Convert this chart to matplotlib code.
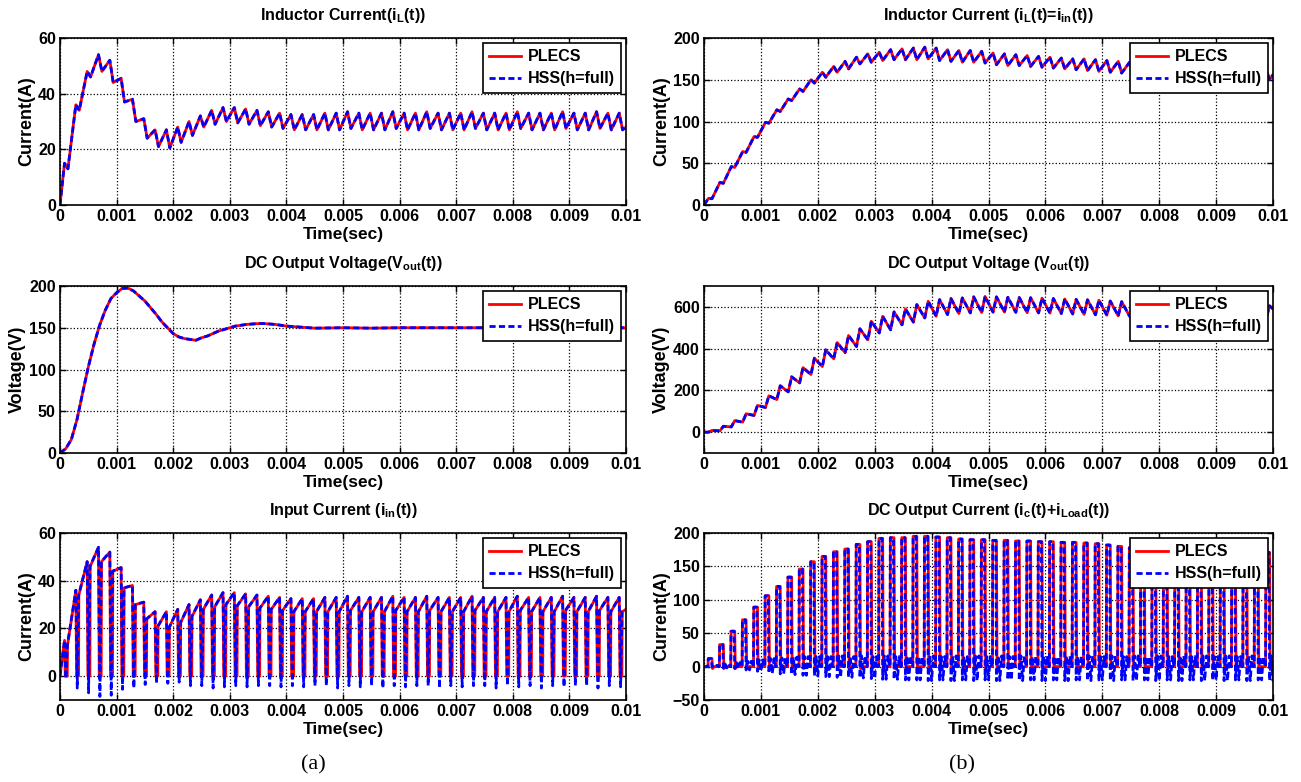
import numpy as np
import matplotlib
matplotlib.use('Agg')
from matplotlib import pyplot as plt

plt.rcParams['font.family'] = ['Liberation Sans', 'DejaVu Sans']
plt.rcParams['font.weight'] = 'bold'
plt.rcParams['axes.labelweight'] = 'bold'
plt.rcParams['axes.titleweight'] = 'bold'
plt.rcParams['mathtext.fontset'] = 'custom'
plt.rcParams['mathtext.rm'] = 'Liberation Sans:bold'
plt.rcParams['mathtext.it'] = 'Liberation Sans:bold'
plt.rcParams['mathtext.bf'] = 'Liberation Sans:bold'

# one switching instant per 0.2 ms period
t_sw = np.arange(0.0001, 0.01, 0.0002)

# (a) inductor current: peak before each switching instant, trough after it
il_a_peak = [15, 36, 48, 54, 52, 45.5, 38, 31, 27, 27, 28, 30, 32, 34, 35, 35, 34.5, 34, 33.5, 33,
             32.5, 32.5, 32.5, 33, 33, 33.5, 33, 33, 33, 33.5, 33, 33, 33.5, 33, 33, 33, 33.5, 33, 33, 33,
             33.5, 33, 33, 33, 33.5, 33, 33, 33.5, 33, 33]
il_a_low = [13, 34, 46, 48, 44, 37, 30, 24, 21, 20.5, 22.5, 25, 28, 29, 30, 29.5, 29, 28.5, 28, 27.5,
            27, 27, 27, 27, 27, 27.5, 27, 27, 27, 27.5, 27, 27, 27.5, 27, 27, 27, 27.5, 27, 27, 27,
            27.5, 27, 27, 27, 27.5, 27, 27, 27.5, 27, 27]
il_a_end = 28

# (a) output voltage
vout_a_t = [round(0.0001 * i, 4) for i in range(46)] + [0.005, 0.0055, 0.006, 0.0065, 0.007, 0.0075,
                                                        0.008, 0.0085, 0.009, 0.0095, 0.01]
vout_a = [0, 5, 16, 40, 72, 103, 130, 153, 171, 185, 192, 197, 197.5, 194, 188, 182, 174, 166, 157, 150,
          143, 139, 137, 136, 135, 138, 140, 143, 146, 148, 150, 152, 153, 154, 154.5, 155, 155, 154.5,
          154, 153, 152, 151.5, 151, 150.5, 150, 149.5,
          150, 149.5, 150, 150, 150, 150, 150, 150, 150, 150, 150]

# (a) input current: dips while the switch is off
iin_dip_plecs = 0
iin_dip_hss = [-1, -5, -7, -8.5, -8, -5.5, -5, -3.5, -3, -3, -2.5, -4, -4, -5, -4.5, -4, -4.5, -4, -4, -4.5,
               -4, -4.5, -4, -4, -5, -4, -4.5, -4, -5, -4, -4.5, -4, -4, -5, -4, -4.5, -4, -4, -5, -4,
               -4.5, -4, -5, -4, -4.5, -4, -4, -5, -4, -4.5]

# (b) inductor current
il_b_peak = [8, 27, 46, 64, 82, 99, 114, 127, 139, 150, 159, 166, 172, 177, 181, 183, 186, 187, 188, 189,
             188, 186, 185, 185, 184, 182, 181, 180, 179, 178, 177, 176, 175, 175, 174, 173, 172, 171, 170,
             169, 168, 167, 166, 165, 165, 164, 163, 163, 162, 162]
il_b_low = [7.5, 26, 45, 63, 81, 98, 112, 125, 136, 146, 153, 159, 163, 169, 171, 173, 174, 174, 174, 175,
            173, 172, 171, 171, 170, 168, 167, 167, 166, 165, 164, 163, 162, 161, 160, 159, 158, 157, 157,
            156, 155, 154, 153, 152, 152, 151, 150, 150, 150, 150]
il_b_end = 156

# (b) output voltage: trough before each switching instant, peak after it
vout_b_low = [0, 6, 25, 48, 80, 118, 156, 193, 236, 276, 314, 351, 381, 410, 442, 475, 490, 514, 527, 547,
              555, 563, 568, 571, 573, 575, 575, 574, 572, 571, 570, 568, 566, 564, 562, 560, 557, 555, 553,
              552, 550, 549, 548, 547, 546, 545, 545, 545, 545, 545]
vout_b_peak = [8, 28, 55, 88, 128, 174, 222, 265, 309, 354, 394, 429, 463, 495, 531, 555, 576, 590, 611, 627,
               635, 640, 643, 648, 650, 648, 646, 645, 644, 642, 640, 638, 636, 634, 632, 628, 625, 622, 620,
               618, 616, 614, 612, 610, 609, 608, 607, 606, 605, 605]
vout_b_end = 590

# (b) output current pulses and ringing between them
iout_b_peak = [12, 33, 53, 70, 89, 106, 120, 134, 146, 157, 165, 172, 176, 183, 187, 192, 193, 193, 195, 195,
               194, 193, 191, 190, 190, 189, 189, 188, 188, 187, 187, 186, 186, 185, 184, 182, 180, 178, 176,
               175, 175, 174, 174, 173, 173, 172, 172, 172, 171, 171]
iout_b_neg_hss = [0, -2, -3, -5, -7, -10, -11, -12, -13, -14, -15, -16, -16, -17, -18, -19, -19, -20, -20, -21,
                  -20, -21, -20, -21, -20, -21, -20, -21, -20, -21, -20, -21, -20, -21, -20, -21, -20, -21,
                  -20, -21, -20, -21, -20, -21, -20, -21, -20, -21, -20, -21]
iout_b_pos_hss = [2, 4, 6, 8, 10, 12, 13, 14, 15, 15, 15, 16, 15, 16, 15, 16, 15, 16, 15, 16, 15, 16, 15, 16,
                  15, 16, 15, 16, 15, 16, 15, 16, 15, 16, 15, 16, 15, 16, 15, 16, 15, 16, 15, 16, 15, 16, 15,
                  16, 15, 16]
iout_b_neg_plecs = -3

xticks = [0, 0.001, 0.002, 0.003, 0.004, 0.005, 0.006, 0.007, 0.008, 0.009, 0.01]
xticklabels = ['0', '0.001', '0.002', '0.003', '0.004', '0.005', '0.006', '0.007', '0.008', '0.009', '0.01']


def ramp_wave(first, second, d1, d2, end_val):
    # vertices at t_sw+d1 (first list) and t_sw+d2 (second list)
    ts, ys = [0.0], [0.0]
    for t, a, b in zip(t_sw, first, second):
        ts += [t + d1, t + d2]
        ys += [a, b]
    ts.append(0.01)
    ys.append(end_val)
    return ts, ys


def chopped_wave(peak, low, dip, lag, flat):
    ts, ys = [0.0], [0.0]
    dips = dip if np.ndim(dip) else [dip] * len(peak)
    for t, h, l, d in zip(t_sw, peak, low, dips):
        if flat:
            ts += [t - 0.00002, t - 0.000015 + lag, t + 0.00002 + lag, t + 0.000025 + lag]
            ys += [h, d, d, l]
        else:
            ts += [t - 0.00002, t + 0.000005, t + 0.00003]
            ys += [h, d, l]
    ts.append(0.01)
    ys.append(il_a_end)
    return ts, ys


def pulse_wave(peak, neg, pos, lag):
    ts, ys = [0.0], [0.0]
    negs = neg if np.ndim(neg) else [neg] * len(peak)
    for k, (t, p, n) in enumerate(zip(t_sw, peak, negs)):
        ts += [t - 0.00003, t - 0.000025, t + 0.00003 + lag, t + 0.00004 + lag]
        ys += [0, p, p, n]
        if pos is None:
            ts += [t + 0.00008]
            ys += [0]
        else:
            q = pos[k]
            ts += [t + 0.00007, t + 0.0001, t + 0.00013, t + 0.00016]
            ys += [q, n, q, 0]
    ts.append(0.01)
    ys.append(0)
    return ts, ys


def style_axes(ax, title, ylabel, ylim, yticks):
    ax.set_xlim(0, 0.01)
    ax.set_ylim(*ylim)
    ax.set_xticks(xticks)
    ax.set_xticklabels(xticklabels)
    ax.set_yticks(yticks)
    ax.tick_params(direction='in', top=True, right=True, labelsize=11.5, length=4, width=1, pad=3)
    ax.grid(True, linestyle=':', color='black', linewidth=0.9)
    for s in ax.spines.values():
        s.set_linewidth(1.2)
    ax.set_title(title, fontsize=11.5, pad=13)
    ax.set_ylabel(ylabel, fontsize=13, labelpad=2)
    ax.set_xlabel('Time(sec)', fontsize=12.5, labelpad=2)
    leg = ax.legend(loc='upper right', fancybox=False, edgecolor='black', framealpha=1,
                    fontsize=11.5, borderaxespad=0.3, borderpad=0.4, labelspacing=0.45,
                    handlelength=2.0, handletextpad=0.4)
    leg.get_frame().set_linewidth(1.2)


def draw(ax, red, blue):
    ax.plot(red[0], red[1], color='red', linewidth=2.0, label='PLECS')
    ax.plot(blue[0], blue[1], color='blue', linewidth=2.0, linestyle=(0, (2.2, 1.2)), label='HSS(h=full)')


fig = plt.figure(figsize=(13.01, 7.82), dpi=100)
W, H = 1301, 782
lefts = [60, 704]
widths = [566, 569]
tops = [38, 286, 533]
hgt = 167


def make_ax(col, row):
    return fig.add_axes([lefts[col] / W, 1 - (tops[row] + hgt) / H, widths[col] / W, hgt / H])


# (a) column
ax = make_ax(0, 0)
w = ramp_wave(il_a_peak, il_a_low, -0.00002, 0.00004, il_a_end)
draw(ax, w, w)
style_axes(ax, 'Inductor Current(i$_{L}$(t))', 'Current(A)', (0, 60), [0, 20, 40, 60])

ax = make_ax(0, 1)
draw(ax, (vout_a_t, vout_a), (vout_a_t, vout_a))
style_axes(ax, 'DC Output Voltage(V$_{out}$(t))', 'Voltage(V)', (0, 200), [0, 50, 100, 150, 200])

ax = make_ax(0, 2)
draw(ax, chopped_wave(il_a_peak, il_a_low, iin_dip_plecs, 0.000008, True),
     chopped_wave(il_a_peak, il_a_low, iin_dip_hss, 0.0, False))
style_axes(ax, 'Input Current (i$_{in}$(t))', 'Current(A)', (-10, 60), [0, 20, 40, 60])

# (b) column
ax = make_ax(1, 0)
w = ramp_wave(il_b_peak, il_b_low, -0.00002, 0.00004, il_b_end)
draw(ax, w, w)
style_axes(ax, 'Inductor Current (i$_{L}$(t)=i$_{in}$(t))', 'Current(A)', (0, 200), [0, 50, 100, 150, 200])

ax = make_ax(1, 1)
w = ramp_wave(vout_b_low, vout_b_peak, -0.00002, 0.00004, vout_b_end)
draw(ax, w, w)
style_axes(ax, 'DC Output Voltage (V$_{out}$(t))', 'Voltage(V)', (-100, 700), [0, 200, 400, 600])

ax = make_ax(1, 2)
draw(ax, pulse_wave(iout_b_peak, iout_b_neg_plecs, None, 0.00001),
     pulse_wave(iout_b_peak, iout_b_neg_hss, iout_b_pos_hss, 0.0))
style_axes(ax, 'DC Output Current (i$_{c}$(t)+i$_{Load}$(t))', 'Current(A)', (-50, 200),
           [-50, 0, 50, 100, 150, 200])

fig.text(313 / W, 1 - 765 / H, '(a)', family='Liberation Serif', fontweight='normal', fontsize=16,
         ha='center', va='center')
fig.text(962 / W, 1 - 765 / H, '(b)', family='Liberation Serif', fontweight='normal', fontsize=16,
         ha='center', va='center')

fig.savefig('out.png', dpi=100)
